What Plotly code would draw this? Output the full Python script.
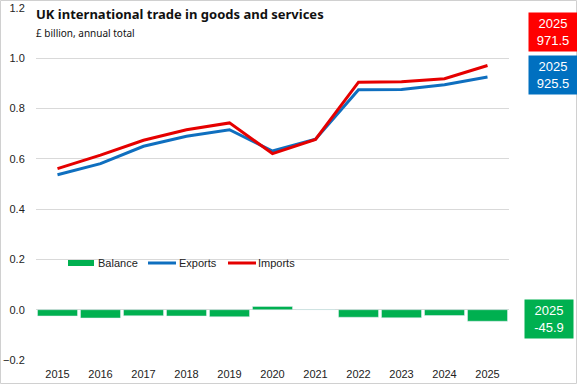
import plotly.graph_objects as go

years = ["2015", "2016", "2017", "2018", "2019", "2020", "2021", "2022", "2023", "2024", "2025"]
# £ billion
exports = [537, 581, 650, 690, 716, 631, 678, 875, 876, 895, 925.5]
imports = [561, 615, 674, 716, 743, 621, 677, 905, 907, 919, 971.5]
balance = [-25, -33, -24, -25, -28, 13, 1, -30, -32, -23, -45.9]

scale = 1000.0  # axis shown in thousands of £ billion

W, H = 577, 385
L, R, T, B = 36, 68, 8, 25
PW, PH = W - L - R, H - T - B

def px(x):
    return (x - L) / PW

def py(y):
    return (H - B - y) / PH

RED = "#E50000"
BLUE = "#0F6FBF"
GREEN = "#00B050"
RED_BOX = "#FF0000"
BLUE_BOX = "#0070C0"
FONT = "Liberation Sans, Arial, sans-serif"

fig = go.Figure()
fig.add_trace(go.Bar(x=years, y=[v / scale for v in balance], marker_color=GREEN,
                     name="Balance", showlegend=False))
fig.add_trace(go.Scatter(x=years, y=[v / scale for v in exports], mode="lines",
                         line=dict(color=BLUE, width=3), name="Exports", showlegend=False))
fig.add_trace(go.Scatter(x=years, y=[v / scale for v in imports], mode="lines",
                         line=dict(color=RED, width=3), name="Imports", showlegend=False))

shapes = [
    # chart border
    dict(type="rect", xref="paper", yref="paper", x0=px(0.5), x1=px(W - 0.5),
         y0=py(H - 1.5), y1=py(0.5), line=dict(color="#D0D0D0", width=1)),
    # legend keys
    dict(type="rect", xref="paper", yref="paper", x0=px(68), x1=px(94),
         y0=py(266), y1=py(260), fillcolor=GREEN, line=dict(width=0)),
    dict(type="line", xref="paper", yref="paper", x0=px(148), x1=px(176),
         y0=py(263), y1=py(263), line=dict(color=BLUE, width=3)),
    dict(type="line", xref="paper", yref="paper", x0=px(228), x1=px(256),
         y0=py(263), y1=py(263), line=dict(color=RED, width=3)),
]

annotations = [
    dict(text="<b>UK international trade in goods and services</b>", xref="paper", yref="paper",
         x=px(34), y=py(25), xanchor="left", yanchor="bottom", showarrow=False,
         font=dict(family="Noto Sans, sans-serif", size=13, color="#111111")),
    dict(text="£ billion, annual total", xref="paper", yref="paper",
         x=px(34), y=py(24), xanchor="left", yanchor="top", showarrow=False,
         font=dict(family="Noto Sans, sans-serif", size=10, color="#111111")),
    dict(text="Balance", xref="paper", yref="paper", x=px(96), y=py(263),
         xanchor="left", yanchor="middle", showarrow=False, font=dict(family=FONT, size=11, color="#222")),
    dict(text="Exports", xref="paper", yref="paper", x=px(177), y=py(263),
         xanchor="left", yanchor="middle", showarrow=False, font=dict(family=FONT, size=11, color="#222")),
    dict(text="Imports", xref="paper", yref="paper", x=px(256), y=py(263),
         xanchor="left", yanchor="middle", showarrow=False, font=dict(family=FONT, size=11, color="#222")),
]

labels = [
    (imports[-1], RED_BOX, 553, 32.5),
    (exports[-1], BLUE_BOX, 553, 75),
    (balance[-1], GREEN, 549, 319),
]
for val, col, cx, cy in labels:
    annotations.append(dict(
        text=f"{years[-1]}<br>{val:.1f}", xref="paper", yref="paper",
        x=px(cx), y=py(cy), xanchor="center", yanchor="middle", showarrow=False,
        bgcolor=col, width=48, height=38, borderpad=0, align="center",
        font=dict(family=FONT, size=13, color="white")))

fig.update_layout(
    width=W, height=H,
    margin=dict(l=L, r=R, t=T, b=B, autoexpand=False),
    paper_bgcolor="white", plot_bgcolor="white",
    bargap=0.07,
    shapes=shapes, annotations=annotations,
    font=dict(family=FONT, size=11, color="#222"),
    hovermode=False,
)
fig.update_yaxes(range=[-0.2, 1.2], dtick=0.2, tickformat=".1f", gridcolor="#D9D9D9",
                 gridwidth=1, zeroline=False, showline=False, ticks="outside", ticklen=8,
                 tickcolor="rgba(0,0,0,0)", tickfont=dict(family=FONT, size=11, color="#222"),
                 automargin=False, ticklabeloverflow="allow")
fig.update_xaxes(type="category", showgrid=False, showline=False, ticks="outside", ticklen=4,
                 tickcolor="rgba(0,0,0,0)", tickfont=dict(family=FONT, size=11, color="#222"),
                 automargin=False, ticklabeloverflow="allow")

fig.write_html("out.html", config={"displayModeBar": False, "staticPlot": True},
               post_script="document.body.style.margin='0';document.body.style.overflow='hidden';")
